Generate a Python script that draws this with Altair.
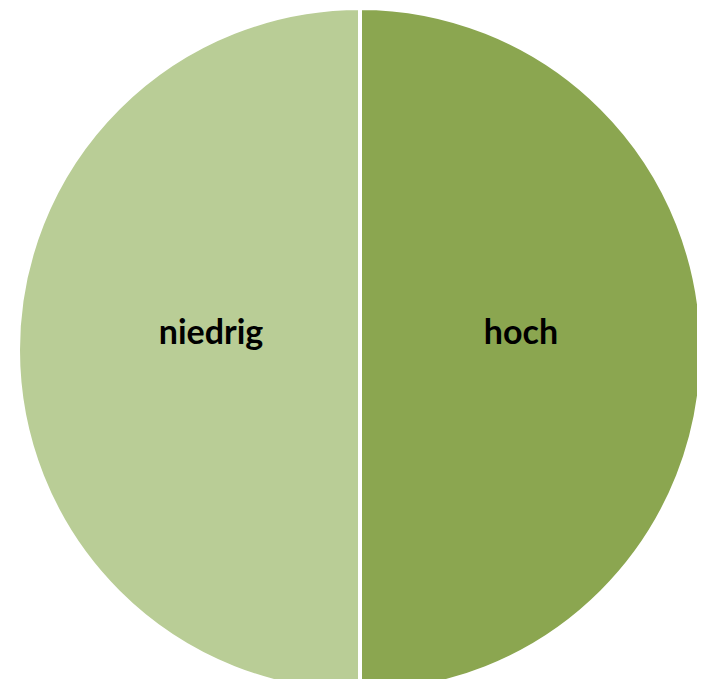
import altair as alt
import pandas as pd

categories = ["hoch", "niedrig"]
values = [50, 50]
colors = ["#8BA650", "#B9CD96"]

df = pd.DataFrame({"Kategorie": categories, "Wert": values, "order": [0, 1]})

cx, cy = 352, 342

base = alt.Chart(df).encode(
    theta=alt.Theta("Wert:Q", stack=True),
    order=alt.Order("order:Q"),
    x=alt.value(cx),
    y=alt.value(cy),
)

pie = base.mark_arc(outerRadius=342, stroke="white", strokeWidth=4).encode(
    color=alt.Color("Kategorie:N", scale=alt.Scale(domain=categories, range=colors), legend=None)
)

labels = base.mark_text(
    radius=155, font="Lato", fontSize=34, fontWeight="bold", color="black",
    baseline="alphabetic", dy=-6, dx=6
).encode(text="Kategorie:N")

chart = (pie + labels).properties(
    width=689, height=671,
    autosize=alt.AutoSizeParams(type="none"),
    padding=0,
).configure_view(stroke=None)

chart.save("out.html", embed_options={"renderer": "svg", "actions": False})
